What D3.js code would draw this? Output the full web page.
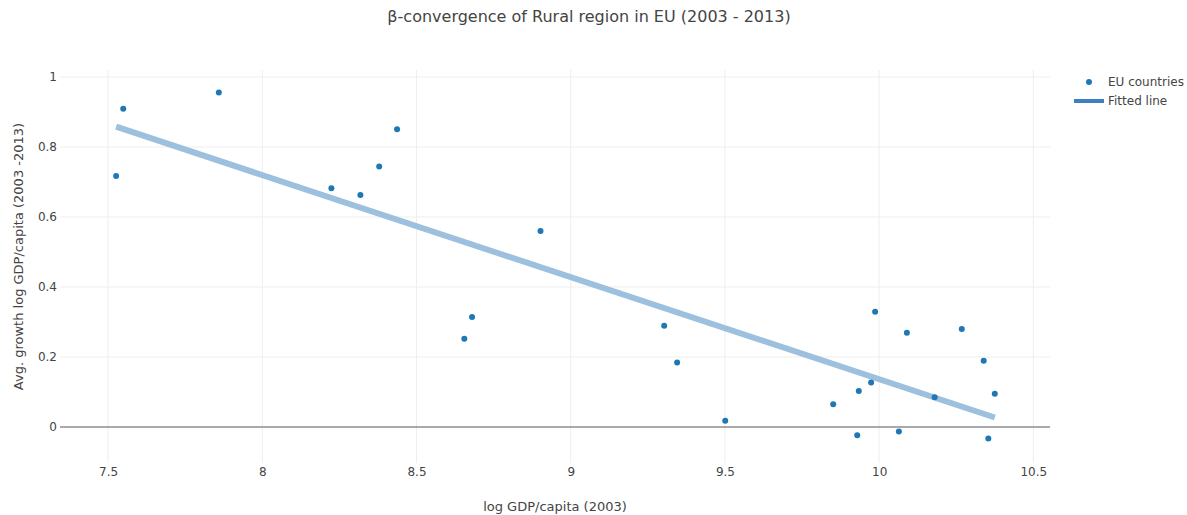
<!doctype html>
<html lang="en">
  <head>
    <meta charset="UTF-8" />
    <title>Rural convergence</title>
    <style>
      body {
        margin: 0;
        background: #fff;
      }
      svg text {
        font-family: "DejaVu Sans", Verdana, sans-serif;
        fill: #444;
      }
    </style>
  </head>
  <body>
    <svg id="chart"></svg>
    <script src="https://d3js.org/d3.v7.min.js"></script>
    <script>
      /* global d3 */

      // log GDP/capita (2003) of each rural region
      const gdp2003 = [
        7.526, 7.549, 7.859, 8.224, 8.318, 8.379, 8.437, 8.902, 8.68, 8.655,
        9.303, 9.345, 9.501, 9.851, 9.934, 9.974, 9.987, 10.09, 10.18, 10.268,
        10.339, 10.375, 9.929, 10.064, 10.354,
      ];
      // avg. growth log GDP/capita (2003 - 2013)
      const growth = [
        0.717, 0.909, 0.956, 0.682, 0.663, 0.744, 0.851, 0.56, 0.314, 0.252,
        0.289, 0.184, 0.018, 0.065, 0.103, 0.127, 0.329, 0.269, 0.085, 0.28,
        0.189, 0.095, -0.024, -0.013, -0.033,
      ];
      // fitted line ends
      const fitX = [7.526, 10.375];
      const fitY = [0.858, 0.027];

      const xTicks = [7.5, 8, 8.5, 9, 9.5, 10, 10.5];
      const yTicks = [0, 0.2, 0.4, 0.6, 0.8, 1];

      const width = 1187,
        height = 515;
      const plot = { left: 60, right: 1050, top: 70, bottom: 463 };

      const svg = d3
        .select("#chart")
        .attr("width", width)
        .attr("height", height);

      const x = d3
        .scaleLinear()
        .domain([7.344, 10.554])
        .range([plot.left, plot.right]);
      const y = d3
        .scaleLinear()
        .domain([-0.103, 1.02])
        .range([plot.bottom, plot.top]);

      // grid
      svg
        .append("g")
        .selectAll("line")
        .data(xTicks)
        .join("line")
        .attr("x1", (d) => x(d))
        .attr("x2", (d) => x(d))
        .attr("y1", plot.top)
        .attr("y2", plot.bottom)
        .attr("stroke", "#eee");
      svg
        .append("g")
        .selectAll("line")
        .data(yTicks.filter((d) => d !== 0))
        .join("line")
        .attr("x1", plot.left)
        .attr("x2", plot.right)
        .attr("y1", (d) => y(d))
        .attr("y2", (d) => y(d))
        .attr("stroke", "#eee");

      // zero line
      svg
        .append("line")
        .attr("x1", plot.left)
        .attr("x2", plot.right)
        .attr("y1", y(0))
        .attr("y2", y(0))
        .attr("stroke", "#8c8c8c")
        .attr("stroke-width", 1.5);

      // axes, plotly style: labels only
      const xAxis = svg
        .append("g")
        .attr("transform", `translate(0,${plot.bottom})`)
        .call(d3.axisBottom(x).tickValues(xTicks).tickSize(0).tickPadding(4).tickFormat(d3.format("")));
      const yAxis = svg
        .append("g")
        .attr("transform", `translate(${plot.left},0)`)
        .call(d3.axisLeft(y).tickValues(yTicks).tickSize(0).tickPadding(3).tickFormat(d3.format("")));
      [xAxis, yAxis].forEach((a) => {
        a.select(".domain").remove();
        a.selectAll("text").attr("font-size", 12).attr("fill", "#444");
        a.attr("font-family", null);
      });

      // fitted line
      const fit = fitX.map((d, i) => [d, fitY[i]]);
      svg
        .append("path")
        .datum(fit)
        .attr("d", d3.line().x((d) => x(d[0])).y((d) => y(d[1])))
        .attr("stroke", "#9dc0df")
        .attr("stroke-width", 6)
        .attr("fill", "none");

      // points
      svg
        .append("g")
        .selectAll("circle")
        .data(gdp2003)
        .join("circle")
        .attr("cx", (d) => x(d))
        .attr("cy", (d, i) => y(growth[i]))
        .attr("r", 3)
        .attr("fill", "#1f77b4");

      // title & axis titles
      svg
        .append("text")
        .attr("x", 589)
        .attr("y", 22)
        .attr("text-anchor", "middle")
        .attr("font-size", 16)
        .text("β-convergence of Rural region in EU (2003 - 2013)");
      svg
        .append("text")
        .attr("x", (plot.left + plot.right) / 2)
        .attr("y", 511)
        .attr("text-anchor", "middle")
        .attr("font-size", 13)
        .text("log GDP/capita (2003)");
      svg
        .append("text")
        .attr("transform", `translate(23,${(plot.top + plot.bottom) / 2 - 10}) rotate(-90)`)
        .attr("text-anchor", "middle")
        .attr("font-size", 13)
        .text("Avg. growth log GDP/capita (2003 -2013)");

      // legend
      const legend = svg.append("g").attr("transform", "translate(1074,82)");
      legend
        .append("circle")
        .attr("cx", 15)
        .attr("cy", 0)
        .attr("r", 3)
        .attr("fill", "#1f77b4");
      legend
        .append("text")
        .attr("x", 34)
        .attr("y", 4)
        .attr("font-size", 12)
        .text("EU countries");
      legend
        .append("line")
        .attr("x1", 0)
        .attr("x2", 30)
        .attr("y1", 19)
        .attr("y2", 19)
        .attr("stroke", "#3d7fc1")
        .attr("stroke-width", 4);
      legend
        .append("text")
        .attr("x", 34)
        .attr("y", 23)
        .attr("font-size", 12)
        .text("Fitted line");
    </script>
  </body>
</html>
